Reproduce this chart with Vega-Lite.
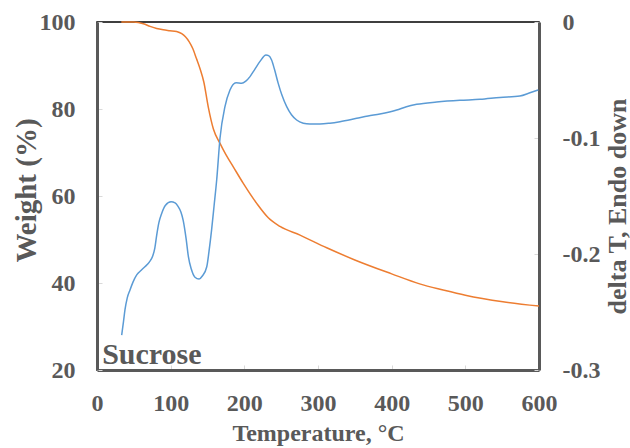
{
  "$schema": "https://vega.github.io/schema/vega-lite/v6.json",
  "autosize": "none",
  "width": 442,
  "height": 348,
  "padding": {"left": 97, "top": 22, "right": 91, "bottom": 78},
  "background": "white",
  "config": {
    "view": {"stroke": "black", "strokeWidth": 1.5},
    "axis": {
      "labelFont": "Liberation Serif",
      "labelFontWeight": "bold",
      "labelFontSize": 24,
      "labelColor": "#595959",
      "titleFont": "Liberation Serif",
      "titleFontWeight": "bold",
      "titleFontSize": 24,
      "titleColor": "#595959",
      "domainColor": "#595959",
      "domainWidth": 3,
      "tickColor": "#d9d9d9",
      "tickWidth": 1,
      "tickSize": -5,
      "grid": false
    }
  },
  "datasets": {
    "weight": [
      {"T": 33, "W": 100}, {"T": 50, "W": 100}, {"T": 63, "W": 99.6}, {"T": 72, "W": 99.0},
      {"T": 81, "W": 98.5}, {"T": 90, "W": 98.2}, {"T": 99, "W": 98.0}, {"T": 108, "W": 97.8},
      {"T": 115, "W": 97.3}, {"T": 120, "W": 96.6}, {"T": 125, "W": 95.5}, {"T": 130, "W": 93.9},
      {"T": 135, "W": 91.6}, {"T": 140, "W": 89.2}, {"T": 145, "W": 86.2}, {"T": 151, "W": 80.5},
      {"T": 158, "W": 75.4}, {"T": 167, "W": 72.1}, {"T": 175, "W": 69.5}, {"T": 185, "W": 66.7},
      {"T": 198.6, "W": 62.9}, {"T": 216.8, "W": 58.3}, {"T": 232.5, "W": 55.0}, {"T": 248.4, "W": 53.0},
      {"T": 275.6, "W": 51.0}, {"T": 311.8, "W": 48.1}, {"T": 350, "W": 45.3}, {"T": 400, "W": 42.1},
      {"T": 438, "W": 39.8}, {"T": 470, "W": 38.4}, {"T": 500, "W": 37.2}, {"T": 551, "W": 35.7},
      {"T": 600, "W": 34.7}
    ],
    "dta": [
      {"T": 33.5, "D": -0.270}, {"T": 36, "D": -0.258}, {"T": 38, "D": -0.248}, {"T": 41, "D": -0.238},
      {"T": 44.8, "D": -0.231}, {"T": 49, "D": -0.224}, {"T": 53.9, "D": -0.218}, {"T": 60, "D": -0.214},
      {"T": 65, "D": -0.211}, {"T": 71, "D": -0.207}, {"T": 75.5, "D": -0.202}, {"T": 78.5, "D": -0.195},
      {"T": 81, "D": -0.184}, {"T": 84, "D": -0.173}, {"T": 87.8, "D": -0.165}, {"T": 93, "D": -0.158},
      {"T": 100.5, "D": -0.155}, {"T": 106, "D": -0.156}, {"T": 110, "D": -0.159}, {"T": 114, "D": -0.164},
      {"T": 117, "D": -0.171}, {"T": 121, "D": -0.187}, {"T": 124, "D": -0.202}, {"T": 128, "D": -0.213},
      {"T": 133, "D": -0.220}, {"T": 138.5, "D": -0.2216}, {"T": 143, "D": -0.219}, {"T": 149, "D": -0.211},
      {"T": 152, "D": -0.198}, {"T": 155.6, "D": -0.179}, {"T": 159, "D": -0.158}, {"T": 162.5, "D": -0.136},
      {"T": 167, "D": -0.100}, {"T": 173.7, "D": -0.073}, {"T": 180.5, "D": -0.0586}, {"T": 188.7, "D": -0.0523},
      {"T": 196.4, "D": -0.0529}, {"T": 202, "D": -0.051}, {"T": 207.7, "D": -0.0471}, {"T": 214, "D": -0.041},
      {"T": 221, "D": -0.0342}, {"T": 229.4, "D": -0.0284}, {"T": 233, "D": -0.029}, {"T": 237, "D": -0.0328},
      {"T": 241, "D": -0.041}, {"T": 246, "D": -0.0529}, {"T": 251, "D": -0.063}, {"T": 257.5, "D": -0.073},
      {"T": 264, "D": -0.080}, {"T": 271, "D": -0.0845}, {"T": 280, "D": -0.0872}, {"T": 289, "D": -0.0879},
      {"T": 302.7, "D": -0.0879}, {"T": 316, "D": -0.0872}, {"T": 329.8, "D": -0.0859}, {"T": 352.5, "D": -0.083},
      {"T": 368, "D": -0.081}, {"T": 384, "D": -0.0793}, {"T": 406.8, "D": -0.0759}, {"T": 420, "D": -0.073},
      {"T": 434, "D": -0.071}, {"T": 461, "D": -0.069}, {"T": 492.7, "D": -0.0675}, {"T": 520, "D": -0.0667},
      {"T": 547, "D": -0.065}, {"T": 574, "D": -0.0638}, {"T": 587.7, "D": -0.061}, {"T": 599, "D": -0.0586}
    ],
    "label": [{"T": 7, "W": 21.4, "text": "Sucrose"}]
  },
  "layer": [
    {
      "data": {"name": "weight"},
      "mark": {"type": "line", "color": "#ED7D31", "strokeWidth": 1.5, "interpolate": "monotone"},
      "encoding": {
        "x": {
          "field": "T", "type": "quantitative",
          "scale": {"domain": [0, 600], "nice": false},
          "axis": {"values": [0, 100, 200, 300, 400, 500, 600], "labelPadding": 26, "title": "Temperature, °C", "titlePadding": 6, "labelFlush": false}
        },
        "y": {
          "field": "W", "type": "quantitative",
          "scale": {"domain": [20, 100], "nice": false},
          "axis": {
            "orient": "left", "values": [20, 40, 60, 80, 100], "labelPadding": 27, "labelFlush": false,
            "title": "Weight (%)", "titleFontSize": 29, "titleAngle": 270,
            "titleX": -71, "titleY": 168, "titleAlign": "center", "titleBaseline": "middle"
          }
        }
      }
    },
    {
      "data": {"name": "dta"},
      "mark": {"type": "line", "color": "#5B9BD5", "strokeWidth": 1.5, "interpolate": "monotone"},
      "encoding": {
        "x": {"field": "T", "type": "quantitative"},
        "y": {
          "field": "D", "type": "quantitative",
          "scale": {"domain": [-0.3, 0], "nice": false},
          "axis": {
            "orient": "right", "values": [-0.3, -0.2, -0.1, 0], "labelPadding": 28, "labelFlush": false,
            "labelExpr": "datum.value == 0 ? '0' : '-' + format(-datum.value, '.1f')",
            "title": "delta T, Endo down", "titleFontSize": 26, "titleAngle": 270,
            "titleX": 78, "titleY": 184, "titleAlign": "center", "titleBaseline": "middle"
          }
        }
      }
    },
    {
      "data": {"name": "label"},
      "mark": {"type": "text", "align": "left", "baseline": "alphabetic", "font": "Liberation Serif", "fontWeight": "bold", "fontSize": 30, "color": "#595959"},
      "encoding": {
        "x": {"field": "T", "type": "quantitative"},
        "y": {"field": "W", "type": "quantitative", "scale": {"domain": [20, 100], "nice": false}, "axis": null},
        "text": {"field": "text"}
      }
    }
  ],
  "resolve": {"scale": {"y": "independent"}}
}
